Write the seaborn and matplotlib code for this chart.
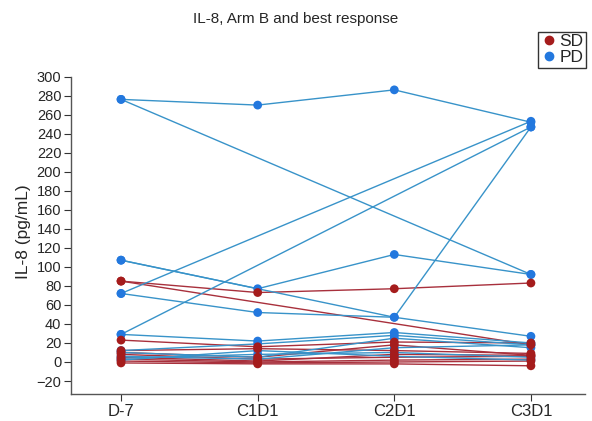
import numpy as np
import pandas as pd
import matplotlib
matplotlib.use("Agg")
import matplotlib.pyplot as plt
import seaborn as sns
from matplotlib.lines import Line2D

visits = ["D-7", "C1D1", "C2D1", "C3D1"]
nan = np.nan

# IL-8 (pg/mL) per patient, columns follow `visits`
pd_patients = [
    [276, 270, 286, 252],
    [276, nan, nan, 92],
    [107, 77, 113, 92],
    [107, nan, 47, 247],
    [72, nan, nan, 253],
    [72, 52, 47, 27],
    [29, nan, nan, 247],
    [29, 22, 31, 20],
    [12, 19, 28, 18],
    [10, 5, 25, 15],
    [6, 3, 15, 18],
    [4, 8, 10, 5],
    [2, 12, 6, 2],
]
sd_patients = [
    [85, 73, 77, 83],
    [85, nan, nan, 18],
    [23, 16, 21, 20],
    [12, 14, 12, 9],
    [10, 5, 18, 7],
    [8, 3, 5, 6],
    [5, 1, 8, 7],
    [3, 0, 2, 3],
    [1, -1, 0, 1],
    [-1, -2, -2, -4],
]

rows = []
for resp, group in [("PD", pd_patients), ("SD", sd_patients)]:
    for i, vals in enumerate(group):
        for j, v in enumerate(vals):
            rows.append({"pid": f"{resp}{i}", "resp": resp, "pos": j, "visit": visits[j], "il8": v})
df = pd.DataFrame(rows).dropna()

sns.set_theme(style="white")
plt.rcParams["font.family"] = ["Liberation Sans", "DejaVu Sans"]

line_pal = {"SD": "#a8303c", "PD": "#3893c9"}
dot_pal = {"SD": "#a51c1c", "PD": "#2378de"}

fig = plt.figure(figsize=(5.92, 4.21), dpi=100)
ax = fig.add_axes([0.12, 0.064, 0.868, 0.77])

sns.lineplot(data=df, x="pos", y="il8", units="pid", estimator=None, hue="resp",
             hue_order=["SD", "PD"], palette=line_pal, linewidth=1.0, legend=False,
             sort=True, ax=ax)
sns.scatterplot(data=df, x="pos", y="il8", hue="resp", hue_order=["SD", "PD"],
                palette=dot_pal, s=40, linewidth=0, legend=False, zorder=3, ax=ax)

ymin, ymax = -33.7, 307
ax.set_xlim(-0.366, 3.395)
ax.set_ylim(ymin, ymax)
ax.set_xticks(range(len(visits)))
ax.set_xticklabels(visits, fontsize=12)
ax.set_yticks(range(-20, 301, 20))
ax.set_yticklabels([f"{t}".replace("-", "\u2212") for t in range(-20, 301, 20)], fontsize=10.5)
ax.set_xlabel("")
ax.set_ylabel("IL-8 (pg/mL)", fontsize=12.5, labelpad=4)

for s in ["top", "right"]:
    ax.spines[s].set_visible(False)
for s in ["left", "bottom"]:
    ax.spines[s].set_color("#555555")
    ax.spines[s].set_linewidth(1.0)
ax.spines["left"].set_bounds(ymin, 300)
ax.tick_params(axis="both", which="both", length=5, width=0.8, color="#333333",
               direction="out", left=True, bottom=True, pad=2)

fig.text(0.5, 0.955, "IL-8, Arm B and best response", ha="center", va="center", fontsize=11)

handles = [Line2D([], [], marker="o", linestyle="", color=dot_pal[k], markersize=6) for k in ["SD", "PD"]]
leg = fig.legend(handles, ["SD", "PD"], loc="upper right", bbox_to_anchor=(0.99, 0.925),
                 fontsize=12.5, frameon=True, fancybox=False, handletextpad=0.1,
                 handlelength=1.0, borderpad=0.15, labelspacing=0.05, borderaxespad=0)
leg.get_frame().set_edgecolor("black")
leg.get_frame().set_linewidth(1.0)

fig.savefig("out.png", dpi=100)
